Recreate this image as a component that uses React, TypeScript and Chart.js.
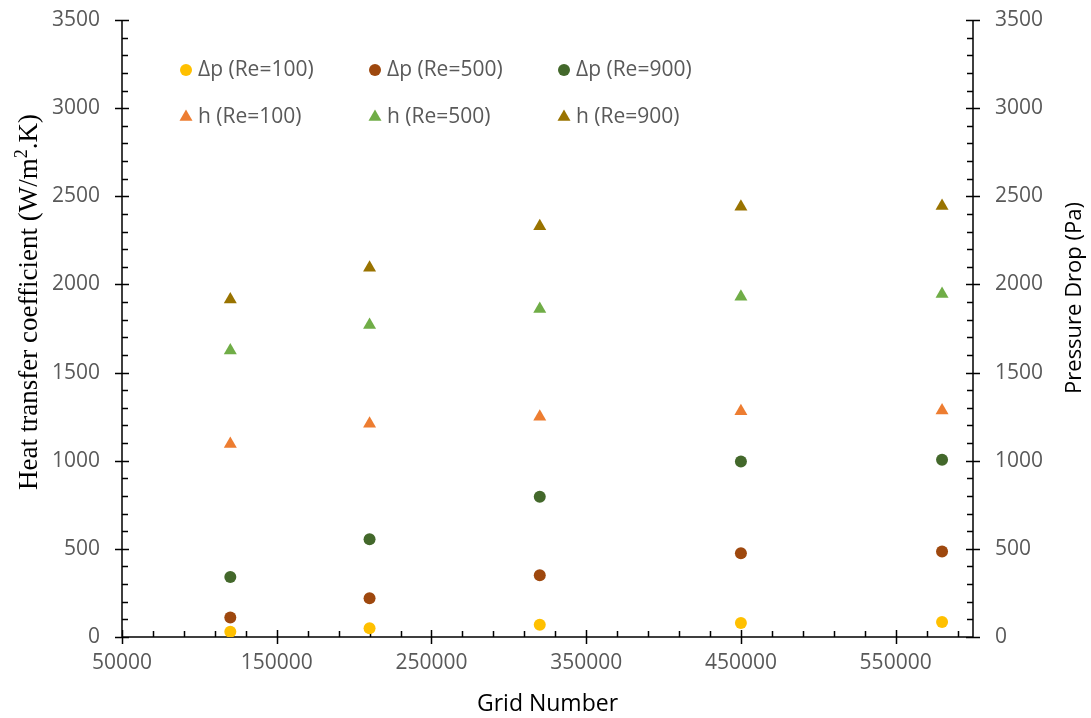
import React, { useEffect, useRef } from "react";
import { Chart, registerables } from "chart.js";

Chart.register(...registerables);

// ---- Data ----
const gridNumbers = [120000, 210000, 320000, 450000, 580000];
const dpRe100 = [30, 50, 70, 80, 85];
const dpRe500 = [110, 220, 350, 475, 485];
const dpRe900 = [340, 555, 795, 995, 1005];
const hRe100 = [1095, 1210, 1250, 1280, 1285];
const hRe500 = [1625, 1770, 1860, 1930, 1945];
const hRe900 = [1915, 2095, 2330, 2440, 2445];

const xTickValues = [50000, 150000, 250000, 350000, 450000, 550000];
const yTickValues = [0, 500, 1000, 1500, 2000, 2500, 3000, 3500];

const seriesLabels = [
  "Δp (Re=100)",
  "Δp (Re=500)",
  "Δp (Re=900)",
  "h (Re=100)",
  "h (Re=500)",
  "h (Re=900)",
];
const seriesColors = ["#FFC000", "#9E480E", "#43682B", "#ED7D31", "#70AD47", "#997300"];

const xTitle = "Grid Number";
const yTitleMain = "Heat transfer coefficient (W/m";
const yTitleSup = "2";
const yTitleEnd = ".K)";
const y1Title = "Pressure Drop (Pa)";

const TICK_SIZE = 21;
const TICK_FONT = `${TICK_SIZE}px 'Open Sans'`;
const TICK_COLOR = "#595959";

function pts(vals: number[]) {
  return gridNumbers.map((x, i) => ({ x, y: vals[i] }));
}

const decorPlugin = {
  id: "decor",
  beforeDatasetsDraw(chart: any) {
    const ctx = chart.ctx;
    const xs = chart.scales.x;
    const ys = chart.scales.y;
    const ca = chart.chartArea;
    ctx.save();
    ctx.strokeStyle = "#000";
    ctx.lineWidth = 1.5;
    ctx.beginPath();
    ctx.moveTo(ca.left, ca.top);
    ctx.lineTo(ca.left, ca.bottom);
    ctx.lineTo(ca.right, ca.bottom);
    ctx.moveTo(ca.right, ca.top);
    ctx.lineTo(ca.right, ca.bottom);
    for (let v = 0; v <= 3500; v += 100) {
      const py = Math.round(ys.getPixelForValue(v)) + 0.5;
      const major = v % 500 === 0;
      if (major) {
        ctx.moveTo(ca.left - 7, py);
        ctx.lineTo(ca.left + 7, py);
        ctx.moveTo(ca.right - 7, py);
        ctx.lineTo(ca.right + 7, py);
      } else {
        ctx.moveTo(ca.left, py);
        ctx.lineTo(ca.left + 6, py);
        ctx.moveTo(ca.right - 6, py);
        ctx.lineTo(ca.right, py);
      }
    }
    for (let v = 50000; v <= 600000; v += 20000) {
      const px = Math.round(xs.getPixelForValue(v)) + 0.5;
      const major = (v - 50000) % 100000 === 0;
      if (major) {
        ctx.moveTo(px, ca.bottom - 7);
        ctx.lineTo(px, ca.bottom + 7);
      } else {
        ctx.moveTo(px, ca.bottom - 6);
        ctx.lineTo(px, ca.bottom);
      }
    }
    ctx.stroke();

    // Titles
    ctx.fillStyle = "#000";
    ctx.textBaseline = "middle";
    ctx.font = "23px 'Open Sans'";
    ctx.textAlign = "center";
    ctx.fillText(xTitle, (ca.left + ca.right) / 2, 704);

    ctx.save();
    ctx.translate(1075, 298);
    ctx.rotate(-Math.PI / 2);
    ctx.font = "22px 'Open Sans'";
    ctx.fillText(y1Title, 0, 0);
    ctx.restore();

    ctx.save();
    ctx.translate(37, 302);
    ctx.rotate(-Math.PI / 2);
    ctx.textAlign = "left";
    ctx.textBaseline = "alphabetic";
    const mainFont = "27px 'Liberation Serif'";
    const supFont = "18px 'Liberation Serif'";
    ctx.font = mainFont;
    const w1 = ctx.measureText(yTitleMain).width;
    const w3 = ctx.measureText(yTitleEnd).width;
    ctx.font = supFont;
    const w2 = ctx.measureText(yTitleSup).width;
    let sx = -(w1 + w2 + w3) / 2;
    ctx.font = mainFont;
    ctx.fillText(yTitleMain, sx, 0);
    sx += w1;
    ctx.font = supFont;
    ctx.fillText(yTitleSup, sx, -10);
    sx += w2;
    ctx.font = mainFont;
    ctx.fillText(yTitleEnd, sx, 0);
    ctx.restore();

    ctx.restore();
  },
  afterDatasetsDraw(chart: any) {
    const ctx = chart.ctx;
    const cols = [186, 375, 564];
    const rows = [70, 117];
    ctx.save();
    ctx.font = TICK_FONT;
    ctx.textBaseline = "middle";
    ctx.textAlign = "left";
    chart.data.datasets.forEach((ds: any, i: number) => {
      const cx = cols[i % 3];
      const cy = rows[Math.floor(i / 3)];
      ctx.fillStyle = ds.backgroundColor;
      ctx.beginPath();
      if (ds.pointStyle === "triangle") {
        const r = 7.5;
        ctx.moveTo(cx, cy - r);
        ctx.lineTo(cx + r * Math.sin((2 * Math.PI) / 3), cy - r * Math.cos((2 * Math.PI) / 3));
        ctx.lineTo(cx + r * Math.sin((4 * Math.PI) / 3), cy - r * Math.cos((4 * Math.PI) / 3));
        ctx.closePath();
      } else {
        ctx.arc(cx, cy, 6, 0, Math.PI * 2);
      }
      ctx.fill();
      ctx.fillStyle = TICK_COLOR;
      ctx.fillText(ds.label, cx + 12, cy);
    });
    ctx.restore();
  },
};

export default function App() {
  const ref = useRef<HTMLCanvasElement | null>(null);
  useEffect(() => {
    if (!ref.current) return;
    const allVals = [dpRe100, dpRe500, dpRe900, hRe100, hRe500, hRe900];
    const datasets = allVals.map((vals, i) => ({
      label: seriesLabels[i],
      data: pts(vals),
      yAxisID: i < 3 ? "y1" : "y",
      pointStyle: i < 3 ? "circle" : "triangle",
      pointRadius: i < 3 ? 6 : 7.5,
      pointHoverRadius: i < 3 ? 6 : 7.5,
      backgroundColor: seriesColors[i],
      borderColor: seriesColors[i],
      borderWidth: 0,
      showLine: false,
    }));
    const yTickBuild = (scale: any) => {
      scale.ticks = yTickValues.map((v) => ({ value: v }));
    };
    const fitY = (w: number) => (scale: any) => {
      scale.width = w;
      scale.paddingTop = 0;
      scale.paddingBottom = 0;
    };
    const tickFont = { family: "'Open Sans'", size: TICK_SIZE };
    const chart = new Chart(ref.current, {
      type: "scatter",
      data: { datasets },
      plugins: [decorPlugin],
      options: {
        animation: false,
        responsive: false,
        devicePixelRatio: 1,
        layout: { padding: { top: 20, left: 0, right: 0, bottom: 0 } },
        plugins: { legend: { display: false }, tooltip: { enabled: false } },
        scales: {
          x: {
            type: "linear",
            min: 50000,
            max: 600000,
            afterBuildTicks: (scale: any) => {
              scale.ticks = xTickValues.map((v) => ({ value: v }));
            },
            afterFit: (scale: any) => {
              scale.height = 81;
              scale.paddingLeft = 0;
              scale.paddingRight = 0;
            },
            grid: { display: false, drawTicks: false },
            border: { display: false },
            ticks: {
              font: tickFont,
              color: TICK_COLOR,
              padding: 13,
              maxRotation: 0,
              autoSkip: false,
              callback: (v: any) => String(v),
            },
          },
          y: {
            type: "linear",
            position: "left",
            min: 0,
            max: 3500,
            afterBuildTicks: yTickBuild,
            afterFit: fitY(122),
            grid: { display: false, drawTicks: false },
            border: { display: false },
            ticks: {
              font: tickFont,
              color: TICK_COLOR,
              padding: 22,
              callback: (v: any) => String(v),
            },
          },
          y1: {
            type: "linear",
            position: "right",
            min: 0,
            max: 3500,
            afterBuildTicks: yTickBuild,
            afterFit: fitY(118),
            grid: { display: false, drawTicks: false },
            border: { display: false },
            ticks: {
              font: tickFont,
              color: TICK_COLOR,
              padding: 22,
              callback: (v: any) => String(v),
            },
          },
        },
      } as any,
    });
    return () => chart.destroy();
  }, []);
  return (
    <div style={{ position: "absolute", left: 0, top: 0, width: 1091, height: 718, background: "#fff" }}>
      <canvas ref={ref} width={1091} height={718} style={{ display: "block" }} />
    </div>
  );
}
